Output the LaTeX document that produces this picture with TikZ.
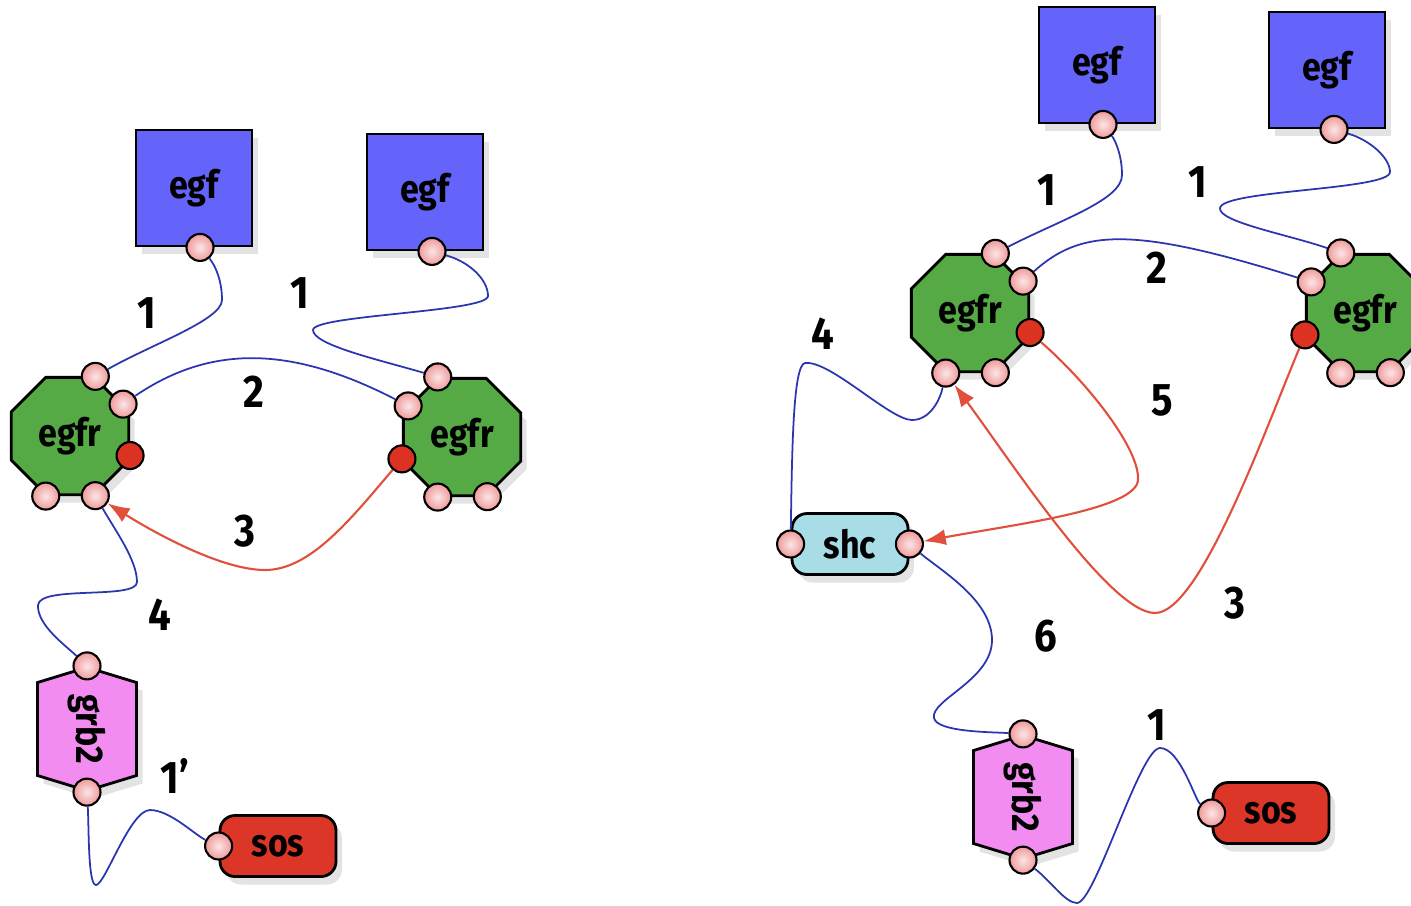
\documentclass[tikz,border=0pt]{standalone}
\usepackage{fontspec}
\setmainfont{Fira Sans}[FakeStretch=0.88]
\usepackage{tikz}
\usetikzlibrary{shapes,arrows.meta,positioning,shadows,calc}
\definecolor{egfblue}{HTML}{6464FA}
\definecolor{egfrgreen}{HTML}{55AA46}
\definecolor{grbpink}{HTML}{F28CF0}
\definecolor{shcblue}{HTML}{A8DCE6}
\definecolor{sosred}{HTML}{DC3628}
\definecolor{sitepink}{HTML}{F09A9A}
\definecolor{sitered}{HTML}{DC3222}
\definecolor{wireblue}{HTML}{2A35B0}
\definecolor{wirered}{HTML}{E0503C}

\begin{document}
\begin{tikzpicture}[x=0.1mm, y=-0.1mm,
    boxshadow/.style={drop shadow={shadow xshift=0.6mm, shadow yshift=-0.8mm, opacity=0.22}},
    egf/.style={rectangle, draw=black, fill=egfblue, minimum size=11.6mm, line width=0.8pt,
                font=\fontsize{11}{13}\selectfont\bfseries, boxshadow},
    egfr/.style={regular polygon, regular polygon sides=8, draw=black, fill=egfrgreen, inner sep=0pt,
                 minimum size=12.7mm, line width=0.8pt, font=\fontsize{11}{13}\selectfont\bfseries, boxshadow},
    grb/.style={signal, signal to=east and west, signal pointer angle=146, draw=black, fill=grbpink,
                minimum width=10.8mm, minimum height=9.9mm, line width=0.8pt, rotate=-90,
                font=\fontsize{11}{13}\selectfont\bfseries, boxshadow},
    pill/.style={rectangle, rounded corners=1.5mm, draw=black, minimum width=11.6mm, minimum height=6.1mm,
                 line width=0.8pt, font=\fontsize{11}{13}\selectfont\bfseries, boxshadow},
    site/.style={circle, draw=black, line width=0.6pt, inner sep=0pt, minimum size=2.7mm,
                 inner color=sitepink!25!white, outer color=sitepink},
    hot/.style={circle, draw=black, line width=0.6pt, inner sep=0pt, minimum size=2.7mm, fill=sitered},
    bond/.style={draw=wireblue, line width=0.5pt},
    flow/.style={draw=wirered, line width=0.6pt, -{Latex[length=2.2mm, width=1.6mm]}},
    num/.style={font=\fontsize{13}{15}\selectfont\bfseries}
]
    \clip (0,0) rectangle (1411,905);

    % Left complex
    \node[egf] (egfA) at (194,188) {egf};
    \node[egf] (egfB) at (425,192) {egf};
    \node[egfr] (egfrA) at (70,436) {egfr};
    \node[egfr] (egfrB) at (462,437) {egfr};
    \node[grb] (grbA) at (87,729) {grb2};
    \node[pill, fill=sosred] (sosA) at (278,846) {sos};

    \node[site] (egfA-s) at ($(egfA.south)+(6,0)$) {};
    \node[site] (egfB-s) at ($(egfB.south)+(7,0)$) {};
    \node[site] (egfrA-t) at (egfrA.67.5) {};
    \node[site] (egfrA-r) at (egfrA.31) {};
    \node[hot]  (egfrA-x) at (egfrA.-18) {};
    \node[site] (egfrA-bl) at (egfrA.-112.5) {};
    \node[site] (egfrA-b) at (egfrA.-67.5) {};
    \node[site] (egfrB-t) at (egfrB.112.5) {};
    \node[site] (egfrB-l) at (egfrB.150) {};
    \node[hot]  (egfrB-x) at (egfrB.-160) {};
    \node[site] (egfrB-b) at (egfrB.-112.5) {};
    \node[site] (egfrB-br) at (egfrB.-67.5) {};
    \node[site] (grbA-t) at (grbA.west) {};
    \node[site] (grbA-b) at (grbA.east) {};
    \node[site] (sosA-s) at (sosA.west) {};

    \draw[bond] (egfA-s) .. controls (215,265) and (222,280) .. (222,300)
        .. controls (222,320) and (150,345) .. (egfrA-t);
    \draw[bond] (egfB-s) .. controls (470,262) and (488,280) .. (488,296)
        .. controls (488,312) and (313,315) .. (313,330)
        .. controls (313,345) and (380,360) .. (egfrB-t);
    \draw[bond] (egfrA-r) .. controls (210,345) and (290,345) .. (egfrB-l);
    \draw[flow] (egfrB-x) .. controls (350,520) and (310,570) .. (265,570)
        .. controls (220,570) and (150,530) .. (egfrA-b);
    \draw[bond] (egfrA-b) .. controls (115,530) and (137,560) .. (137,582)
        .. controls (137,600) and (40,585) .. (38,605)
        .. controls (37,625) and (65,645) .. (grbA-t);
    \draw[bond] (grbA-b) .. controls (89,830) and (88,885) .. (96,885)
        .. controls (105,885) and (130,810) .. (150,810)
        .. controls (170,810) and (195,835) .. (sosA-s);

    \node[num] (nA1) at (147,313) {1};
    \node[num] (nA2) at (300,293) {1};
    \node[num] (nA3) at (254,392) {2};
    \node[num] (nA4) at (245,531) {3};
    \node[num] (nA5) at (160,615) {4};
    \node[num] (nA6) at (175,776) {1'};

    % Right complex
    \node[egf] (egfC) at (1097,65) {egf};
    \node[egf] (egfD) at (1327,70) {egf};
    \node[egfr] (egfrC) at (970,313) {egfr};
    \node[egfr] (egfrD) at (1365,313) {egfr};
    \node[pill, fill=shcblue] (shc) at (850,544) {shc};
    \node[grb] (grbB) at (1023,797) {grb2};
    \node[pill, fill=sosred] (sosB) at (1271,813) {sos};

    \node[site] (egfC-s) at ($(egfC.south)+(6,0)$) {};
    \node[site] (egfD-s) at ($(egfD.south)+(7,0)$) {};
    \node[site] (egfrC-t) at (egfrC.67.5) {};
    \node[site] (egfrC-r) at (egfrC.31) {};
    \node[hot]  (egfrC-x) at (egfrC.-18) {};
    \node[site] (egfrC-bl) at (egfrC.-112.5) {};
    \node[site] (egfrC-b) at (egfrC.-67.5) {};
    \node[site] (egfrD-t) at (egfrD.112.5) {};
    \node[site] (egfrD-l) at (egfrD.150) {};
    \node[hot]  (egfrD-x) at (egfrD.-160) {};
    \node[site] (egfrD-b) at (egfrD.-112.5) {};
    \node[site] (egfrD-br) at (egfrD.-67.5) {};
    \node[site] (shc-l) at (shc.west) {};
    \node[site] (shc-r) at (shc.east) {};
    \node[site] (grbB-t) at (grbB.west) {};
    \node[site] (grbB-b) at (grbB.east) {};
    \node[site] (sosB-s) at (sosB.west) {};

    \draw[bond] (egfC-s) .. controls (1115,140) and (1122,155) .. (1122,175)
        .. controls (1122,200) and (1060,220) .. (egfrC-t);
    \draw[bond] (egfD-s) .. controls (1370,140) and (1390,158) .. (1390,172)
        .. controls (1390,190) and (1222,190) .. (1220,208)
        .. controls (1218,222) and (1290,235) .. (egfrD-t);
    \draw[bond] (egfrC-r) .. controls (1080,230) and (1130,225) .. (egfrD-l);
    \draw[bond] (egfrC-bl) .. controls (940,400) and (930,420) .. (912,420)
        .. controls (890,420) and (830,360) .. (805,363)
        .. controls (793,365) and (792,450) .. (shc-l);
    \draw[flow] (egfrC-x) .. controls (1090,385) and (1140,450) .. (1138,480)
        .. controls (1136,510) and (1010,525) .. (shc-r);
    \draw[flow] (egfrD-x) .. controls (1265,430) and (1200,613) .. (1155,613)
        .. controls (1110,613) and (1010,460) .. (egfrC-bl);
    \draw[bond] (shc-r) .. controls (940,570) and (992,600) .. (992,640)
        .. controls (992,680) and (930,700) .. (934,718)
        .. controls (937,732) and (990,732) .. (grbB-t);
    \draw[bond] (grbB-b) .. controls (1050,880) and (1065,903) .. (1077,903)
        .. controls (1095,903) and (1140,748) .. (1160,748)
        .. controls (1180,748) and (1195,800) .. (sosB-s);

    \node[num] (nB1) at (1047,190) {1};
    \node[num] (nB2) at (1198,182) {1};
    \node[num] (nB3) at (1157,268) {2};
    \node[num] (nB4) at (823,334) {4};
    \node[num] (nB5) at (1162,400) {5};
    \node[num] (nB6) at (1235,603) {3};
    \node[num] (nB7) at (1046,636) {6};
    \node[num] (nB8) at (1157,725) {1};
\end{tikzpicture}
\end{document}
